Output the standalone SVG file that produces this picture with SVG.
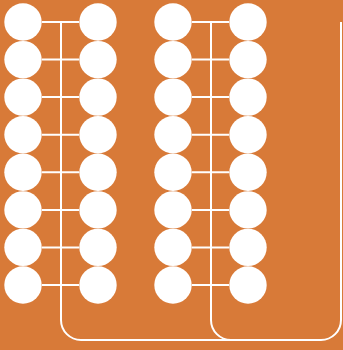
<svg xmlns="http://www.w3.org/2000/svg" width="343" height="350" viewBox="0 0 343 350">
<style>
.n{fill:#fff}
.c{fill:none;stroke:#fff;stroke-width:2}
</style>
<rect width="343" height="350" fill="#D87A38"/>
<g id="connectors" class="c">
<path d="M61,22 V320 A20,20 0 0 0 81,340 H231"/>
<path d="M211,22 V320 A20,20 0 0 0 231,340 H321 A20,20 0 0 0 341,320 V22"/>
<path d="M42,22 H79 M42,59.6 H79 M42,97.1 H79 M42,134.7 H79 M42,172.3 H79 M42,209.9 H79 M42,247.4 H79 M42,285 H79"/>
<path d="M192,22 H229 M192,59.6 H229 M192,97.1 H229 M192,134.7 H229 M192,172.3 H229 M192,209.9 H229 M192,247.4 H229 M192,285 H229"/>
</g>
<g id="a1"><circle class="n" cx="23" cy="22" r="18.7"/></g>
<g id="a2"><circle class="n" cx="23" cy="59.6" r="18.7"/></g>
<g id="a3"><circle class="n" cx="23" cy="97.1" r="18.7"/></g>
<g id="a4"><circle class="n" cx="23" cy="134.7" r="18.7"/></g>
<g id="a5"><circle class="n" cx="23" cy="172.3" r="18.7"/></g>
<g id="a6"><circle class="n" cx="23" cy="209.9" r="18.7"/></g>
<g id="a7"><circle class="n" cx="23" cy="247.4" r="18.7"/></g>
<g id="a8"><circle class="n" cx="23" cy="285" r="18.7"/></g>
<g id="b1"><circle class="n" cx="98" cy="22" r="18.7"/></g>
<g id="b2"><circle class="n" cx="98" cy="59.6" r="18.7"/></g>
<g id="b3"><circle class="n" cx="98" cy="97.1" r="18.7"/></g>
<g id="b4"><circle class="n" cx="98" cy="134.7" r="18.7"/></g>
<g id="b5"><circle class="n" cx="98" cy="172.3" r="18.7"/></g>
<g id="b6"><circle class="n" cx="98" cy="209.9" r="18.7"/></g>
<g id="b7"><circle class="n" cx="98" cy="247.4" r="18.7"/></g>
<g id="b8"><circle class="n" cx="98" cy="285" r="18.7"/></g>
<g id="c1"><circle class="n" cx="173" cy="22" r="18.7"/></g>
<g id="c2"><circle class="n" cx="173" cy="59.6" r="18.7"/></g>
<g id="c3"><circle class="n" cx="173" cy="97.1" r="18.7"/></g>
<g id="c4"><circle class="n" cx="173" cy="134.7" r="18.7"/></g>
<g id="c5"><circle class="n" cx="173" cy="172.3" r="18.7"/></g>
<g id="c6"><circle class="n" cx="173" cy="209.9" r="18.7"/></g>
<g id="c7"><circle class="n" cx="173" cy="247.4" r="18.7"/></g>
<g id="c8"><circle class="n" cx="173" cy="285" r="18.7"/></g>
<g id="d1"><circle class="n" cx="248" cy="22" r="18.7"/></g>
<g id="d2"><circle class="n" cx="248" cy="59.6" r="18.7"/></g>
<g id="d3"><circle class="n" cx="248" cy="97.1" r="18.7"/></g>
<g id="d4"><circle class="n" cx="248" cy="134.7" r="18.7"/></g>
<g id="d5"><circle class="n" cx="248" cy="172.3" r="18.7"/></g>
<g id="d6"><circle class="n" cx="248" cy="209.9" r="18.7"/></g>
<g id="d7"><circle class="n" cx="248" cy="247.4" r="18.7"/></g>
<g id="d8"><circle class="n" cx="248" cy="285" r="18.7"/></g>
</svg>
